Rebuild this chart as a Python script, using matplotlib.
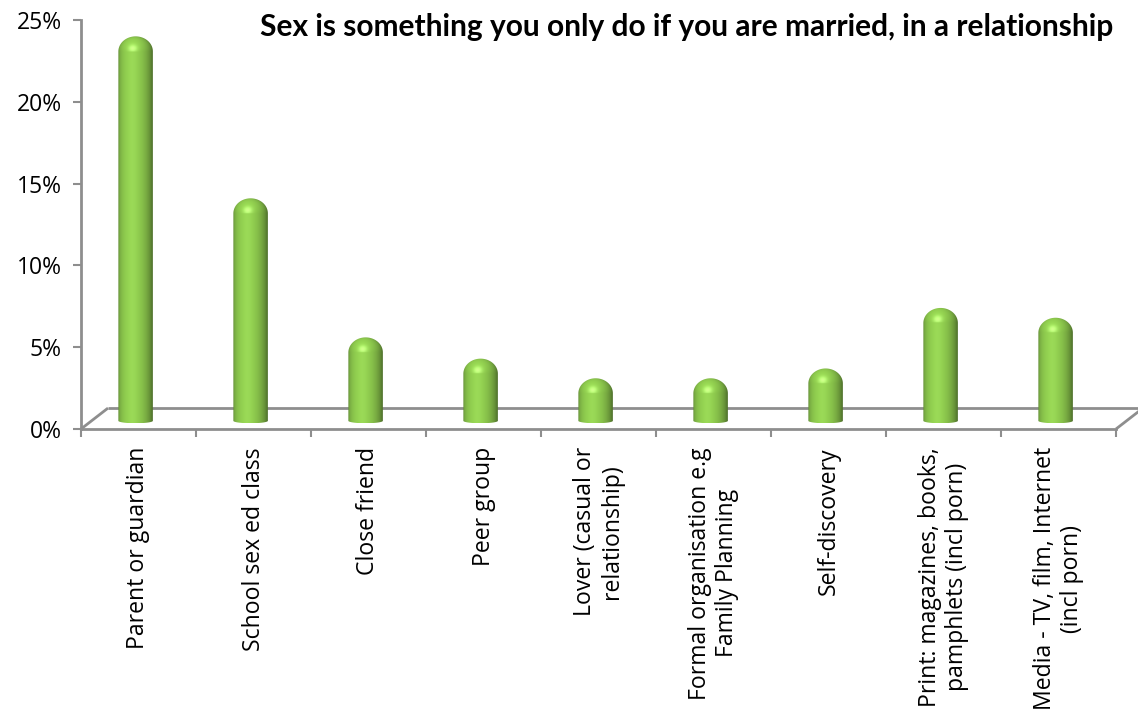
import numpy as np
import matplotlib
matplotlib.use("Agg")
import matplotlib.pyplot as plt
from matplotlib.path import Path
from matplotlib.patches import PathPatch

# ---- data -------------------------------------------------------------
categories = [
    "Parent or guardian",
    "School sex ed class",
    "Close friend",
    "Peer group",
    "Lover (casual or\nrelationship)",
    "Formal organisation e.g\nFamily Planning",
    "Self-discovery",
    "Print: magazines, books,\npamphlets (incl porn)",
    "Media - TV, film, Internet\n(incl porn)",
]
values = [23.5, 13.6, 5.1, 3.8, 2.6, 2.6, 3.2, 6.9, 6.3]
y_ticks = [0, 5, 10, 15, 20, 25]
y_tick_labels = ["0%", "5%", "10%", "15%", "20%", "25%"]
title = "Sex is something you only do if you are married, in a relationship"

# ---- layout / style ---------------------------------------------------
W, H = 1138, 719
AX_L, AX_R, AX_B, AX_T = 81, 1116, 429, 20
GRAY = "#8e8e8e"
BASE = np.array([146, 208, 80]) / 255.0
LABEL_FONT = ["Open Sans", "DejaVu Sans"]

DEPTH_X = 0.235      # floor depth, category units
DEPTH_Y = 1.28       # floor depth, percent units
BAR_W = 0.30
BAR_SHIFT = -0.025
BAR_BASE = 0.5       # bars stand in the middle of the floor
DOME_H = 0.92        # dome height in percent units
FOOT_H = 0.15        # half-height of the base ellipse

fig = plt.figure(figsize=(W / 100, H / 100), dpi=100)
ax = fig.add_axes([AX_L / W, 1 - AX_B / H, (AX_R - AX_L) / W, (AX_B - AX_T) / H])
n = len(categories)
ax.set_xlim(0, n)
ax.set_ylim(0, 25)
ax.patch.set_alpha(0)

# floor of the 3D box
floor_kw = dict(color=GRAY, lw=2.0, clip_on=False, zorder=1, solid_capstyle="butt")
ax.plot([DEPTH_X, n + DEPTH_X], [DEPTH_Y, DEPTH_Y], **floor_kw)
ax.plot([0, DEPTH_X], [0, DEPTH_Y], **floor_kw)
ax.plot([n, n + DEPTH_X], [0, DEPTH_Y], **floor_kw)

# spines and ticks
for s in ("top", "right"):
    ax.spines[s].set_visible(False)
for s in ("left", "bottom"):
    ax.spines[s].set_color(GRAY)
    ax.spines[s].set_linewidth(2.0)
ax.set_yticks(y_ticks)
ax.set_yticklabels(y_tick_labels, fontsize=16.5, family=LABEL_FONT)
ax.tick_params(axis="y", length=6, width=1.5, color=GRAY, pad=8)
ax.set_xticks(np.arange(n + 1))
ax.set_xticklabels([])
ax.tick_params(axis="x", which="major", length=6, width=1.5, color=GRAY)
ax.set_xticks(np.arange(n) + 0.5, minor=True)
ax.set_xticklabels(categories, minor=True, rotation=90, fontsize=16.6,
                   family=LABEL_FONT, ha="center", va="top",
                   multialignment="center", linespacing=1.12)
ax.tick_params(axis="x", which="minor", length=0, pad=13)


def shade(u, v, in_dome):
    """Lit colour of a capsule surface point (u across, v up the dome)."""
    v = np.where(in_dome, v, 0.0)
    nz = np.sqrt(np.clip(1 - u ** 2 - v ** 2, 0, 1))
    L = np.array([-0.35, 0.45, 1.0])
    L /= np.linalg.norm(L)
    diff = np.clip(u * L[0] + v * L[1] + nz * L[2], 0, 1)
    Hv = L + np.array([0, 0, 1.0])
    Hv /= np.linalg.norm(Hv)
    spec = np.clip(u * Hv[0] + v * Hv[1] + nz * Hv[2], 0, 1) ** 30
    spec = np.where(in_dome, spec * 0.22, spec * 0.04)
    rim = 0.82 + 0.18 * np.sqrt(np.clip(1 - u ** 2, 0, 1))
    k = (0.66 + 0.4 * diff) * rim
    rgb = BASE[None, None, :] * k[..., None] + spec[..., None]
    return np.clip(rgb, 0, 1)


for i, val in enumerate(values):
    cx = i + 0.5 + BAR_SHIFT
    x0, x1 = cx - BAR_W / 2, cx + BAR_W / 2
    y_bot = BAR_BASE
    y_top = BAR_BASE + val
    y_body = y_top - DOME_H

    # capsule outline: bottom half-ellipse, sides, top dome
    t_bot = np.linspace(np.pi, 2 * np.pi, 40)
    t_top = np.linspace(0, np.pi, 60)
    xs = np.concatenate([cx + BAR_W / 2 * np.cos(t_bot), [x1],
                         cx + BAR_W / 2 * np.cos(t_top)])
    ys = np.concatenate([y_bot + FOOT_H * np.sin(t_bot), [y_body],
                         y_body + DOME_H * np.sin(t_top)])
    verts = np.column_stack([xs, ys])
    path = Path(np.vstack([verts, verts[:1]]))
    patch = PathPatch(path, facecolor="none", edgecolor="none", zorder=3)
    ax.add_patch(patch)

    ny, nx = 500, 80
    yy = np.linspace(y_top, y_bot - FOOT_H, ny)[:, None] * np.ones((1, nx))
    uu = np.linspace(-1, 1, nx)[None, :] * np.ones((ny, 1))
    in_dome = yy > y_body
    vv = np.clip((yy - y_body) / DOME_H, 0, 1)
    img = shade(uu, vv, in_dome)
    im = ax.imshow(img, extent=[x0, x1, y_bot - FOOT_H, y_top], aspect="auto",
                   interpolation="bilinear", zorder=3, origin="upper")
    im.set_clip_path(patch)

ax.set_xlim(0, n)
ax.set_ylim(0, 25)

fig.text(1113 / W, 1 - 36 / H, title, ha="right", va="baseline",
         fontsize=21.5, fontweight="bold", family=["Lato", "DejaVu Sans"])

fig.savefig("out.png", dpi=100)
